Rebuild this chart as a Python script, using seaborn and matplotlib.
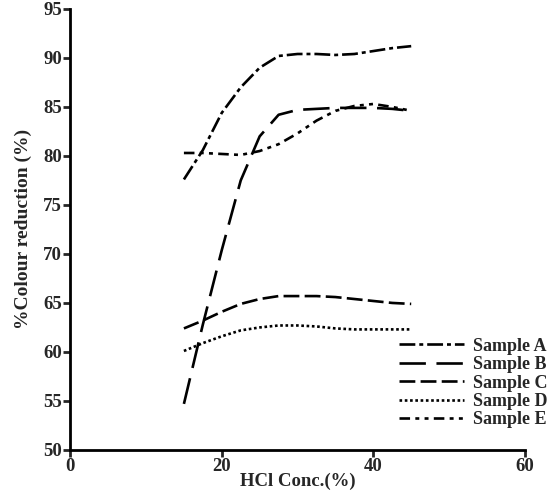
import numpy as np
import pandas as pd
import seaborn as sns
import matplotlib.pyplot as plt

# values
conc = [15, 17.5, 20, 22.5, 25, 27.5, 30, 32.5, 35, 37.5, 40, 42.5, 45]
sample_a = [77.6, 80.6, 84.4, 87.0, 89.0, 90.2, 90.4, 90.4, 90.3, 90.4, 90.7, 91.0, 91.2]
sample_b = [54.7, 62.8, 70.4, 77.5, 82.0, 84.2, 84.7, 84.8, 84.9, 84.9, 84.9, 84.8, 84.6]
sample_c = [62.4, 63.2, 64.1, 64.9, 65.4, 65.7, 65.7, 65.7, 65.6, 65.4, 65.2, 65.0, 64.9]
sample_d = [60.1, 60.9, 61.6, 62.2, 62.5, 62.7, 62.7, 62.6, 62.4, 62.3, 62.3, 62.3, 62.3]
sample_e = [80.3, 80.3, 80.2, 80.1, 80.5, 81.2, 82.3, 83.6, 84.6, 85.1, 85.3, 85.0, 84.6]
names = ["Sample A", "Sample B", "Sample C", "Sample D", "Sample E"]

frames = []
for name, vals in zip(names, [sample_a, sample_b, sample_c, sample_d, sample_e]):
    frames.append(pd.DataFrame({"conc": conc, "red": vals, "sample": name}))
df = pd.concat(frames, ignore_index=True)

sns.set_style("white")
plt.rcParams['font.family'] = ['Liberation Serif', 'DejaVu Serif']

fig = plt.figure(figsize=(5.49, 4.95), dpi=100)
ax = fig.add_axes([0.128, 0.091, 0.828, 0.891])

dashes = {
    "Sample A": (6, 1.5, 1.5, 1.5),
    "Sample B": (10, 4),
    "Sample C": (6, 2),
    "Sample D": (1, 1),
    "Sample E": (4, 2, 1.5, 2, 1.5, 2),
}
sns.lineplot(data=df, x="conc", y="red", hue="sample", style="sample",
             palette=["black"] * 5, dashes=dashes, linewidth=1.9, ax=ax)

ax.set_xlim(0, 60)
ax.set_ylim(50, 95)
ax.set_xticks([0, 20, 40, 60])
ax.set_yticks(np.arange(50, 96, 5))
ax.set_xlabel("HCl Conc.(%)", fontsize=13.5, fontweight="bold", labelpad=-2)
ax.set_ylabel("%Colour reduction (%)", fontsize=14, fontweight="bold", labelpad=8)
for lab in ax.get_xticklabels() + ax.get_yticklabels():
    lab.set_fontweight("bold")
ax.tick_params(axis="both", labelsize=13.5, width=2, length=5, direction="out",
               bottom=True, left=True, pad=1)
for side in ["top", "right"]:
    ax.spines[side].set_visible(False)
for side in ["left", "bottom"]:
    ax.spines[side].set_linewidth(2)
    ax.spines[side].set_color("black")

handles, labels = ax.get_legend_handles_labels()
leg = ax.legend(handles, labels, loc="lower right", bbox_to_anchor=(1.085, 0.012),
                frameon=False, fontsize=13, handlelength=3.6, handletextpad=0.5,
                labelspacing=0.08)
for t in leg.get_texts():
    t.set_fontweight("bold")

fig.savefig("out.png", dpi=100)
